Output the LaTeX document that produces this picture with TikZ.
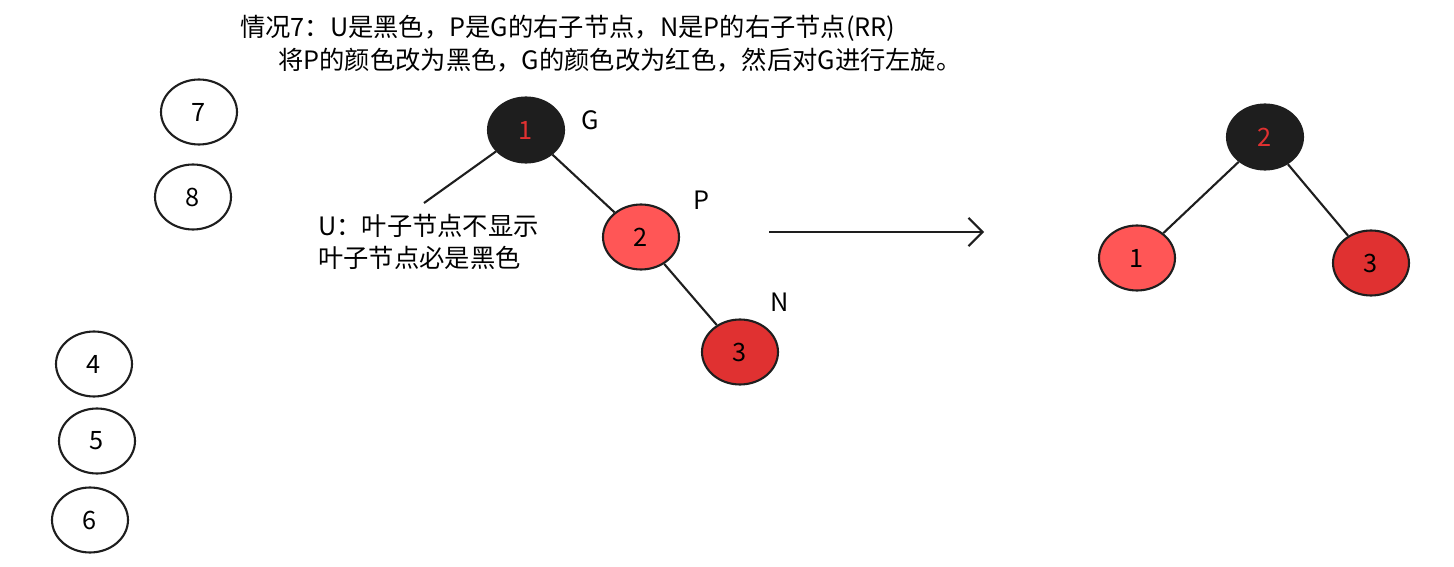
\documentclass[tikz,border=0pt]{standalone}
\usepackage{fontspec}
\setmainfont{Noto Sans CJK SC}
\usetikzlibrary{shapes.geometric, arrows.meta}
\definecolor{nodeblack}{HTML}{1E1E1E}
\definecolor{lightred}{HTML}{FF5656}
\definecolor{darkred}{HTML}{E03131}
\tikzset{
	every node/.style={font=\fontsize{14.4}{18}\selectfont},
	tnode/.style={ellipse, draw=nodeblack, line width=1.2pt, minimum width=1.52cm, minimum height=1.3cm},
	bnode/.style={tnode, fill=nodeblack, text=darkred},
	lnode/.style={tnode, fill=lightred},
	dnode/.style={tnode, fill=darkred},
	edge/.style={draw=nodeblack, line width=1.2pt}
}
\begin{document}
\begin{tikzpicture}[x=0.02cm, y=-0.02cm]
	\useasboundingbox (0,0) rectangle (1454,567);
	% title
	\node[anchor=west] (title1) at (234,28) {情况7：U是黑色，P是G的右子节点，N是P的右子节点(RR)};
	\node[anchor=west] (title2) at (272,60) {将P的颜色改为黑色，G的颜色改为红色，然后对G进行左旋。};
	% loose nodes
	\node[tnode] (n7) at (199,112) {7};
	\node[tnode] (n8) at (193,197) {8};
	\node[tnode] (n4) at (94,364) {4};
	\node[tnode] (n5) at (97,441) {5};
	\node[tnode] (n6) at (90,520) {6};
	% before
	\node[bnode] (g) at (526,130) {1};
	\node[lnode] (p) at (641,237) {2};
	\node[dnode] (n) at (740,352) {3};
	\node (lg) at (590,120) {G};
	\node (lp) at (701,200) {P};
	\node (ln) at (780,302) {N};
	\coordinate (u) at (424,203);
	\draw[edge] (g) -- (u);
	\draw[edge] (g) -- (p);
	\draw[edge] (p) -- (n);
	\node[anchor=west, align=left] (utext) at (312,242) {U：叶子节点不显示\\叶子节点必是黑色};
	% arrow
	\coordinate (a1) at (769,232);
	\coordinate (a2) at (984,232);
	\draw[edge, -{Straight Barb[length=8pt, width=16pt]}] (a1) -- (a2);
	% after
	\node[bnode] (r2) at (1265,137) {2};
	\node[lnode] (r1) at (1137,258) {1};
	\node[dnode] (r3) at (1371,263) {3};
	\draw[edge] (r2) -- (r1);
	\draw[edge] (r2) -- (r3);
\end{tikzpicture}
\end{document}
